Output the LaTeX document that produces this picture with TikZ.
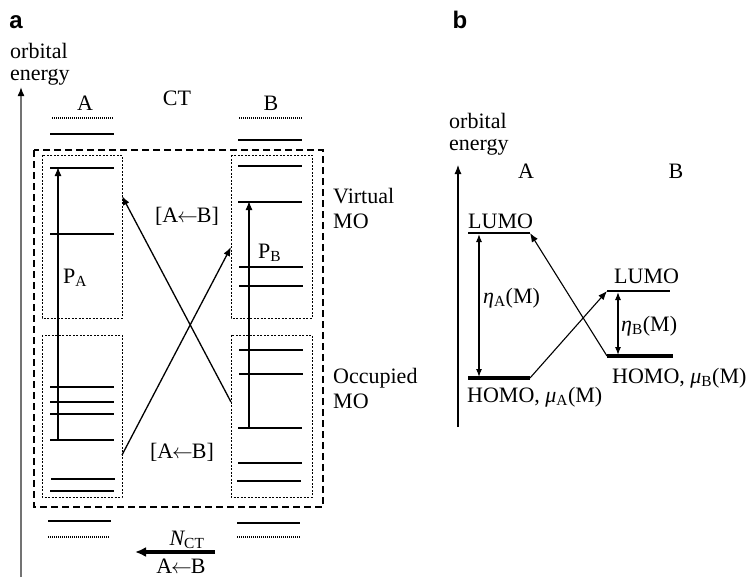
\documentclass[tikz,border=0pt]{standalone}
\usepackage{fontspec}
\setmainfont{Liberation Serif}
\newfontfamily\labfont{Liberation Sans}
\usetikzlibrary{arrows.meta}
\begin{document}
\begin{tikzpicture}[x=1pt,y=-1pt,
  txt/.style={font=\fontsize{22}{26}\selectfont, inner sep=0pt},
  panellab/.style={font=\labfont\bfseries\fontsize{24}{28}\selectfont, inner sep=0pt},
  lvl/.style={line width=2.6pt},
  lvlthin/.style={line width=2pt},
  lvlthick/.style={line width=3.6pt},
  dotlvl/.style={line width=1.1pt, dash pattern=on 1pt off 1pt},
  outerbox/.style={line width=1.2pt, dash pattern=on 7pt off 4pt},
  innerbox/.style={line width=0.8pt, dash pattern=on 2pt off 1.5pt},
  arr/.style={line width=1.3pt, -{Latex[length=9pt,width=7pt]}},
  darr/.style={line width=1.1pt, {Latex[length=8pt,width=6pt]}-{Latex[length=8pt,width=6pt]}}
]
\useasboundingbox (0,0) rectangle (753,579);

% ---------------- panel a ----------------
\node[panellab] (la) at (16,22) {a};
\node[txt, anchor=base west] (oa1) at (10,58) {orbital};
\node[txt, anchor=base west] (oa2) at (10,80) {energy};
\coordinate (axa0) at (21,577);
\coordinate (axa1) at (21,87);
\draw[line width=1.5pt, black!55, -{Latex[length=9pt,width=7pt,color=black]}] (axa0) -- (axa1);

\node[txt, anchor=base] (hA) at (85,110) {A};
\node[txt, anchor=base] (hCT) at (177,105) {CT};
\node[txt, anchor=base] (hB) at (271,110) {B};

% outer and inner boxes
\draw[outerbox] (34,150) rectangle (323,507);
\draw[innerbox] (42,155) rectangle (122,318);
\draw[innerbox] (231,155) rectangle (312,318);
\draw[innerbox] (42,335) rectangle (122,497);
\draw[innerbox] (231,335) rectangle (312,497);

% A levels
\draw[dotlvl] (52,118) -- (113,118);
\draw[lvl] (50,134) -- (114,134);
\draw[lvl] (50,168) -- (114,168);
\draw[lvl] (50,234) -- (114,234);
\draw[lvl] (50,387) -- (114,387);
\draw[lvl] (50,402) -- (114,402);
\draw[lvl] (50,414) -- (114,414);
\draw[lvl] (50,440) -- (114,440);
\draw[lvl] (51,479) -- (115,479);
\draw[lvl] (50,491) -- (114,491);
\draw[lvl] (48,521) -- (111,521);
\draw[dotlvl] (48,537) -- (110,537);

% B levels
\draw[dotlvl] (239,118) -- (302,118);
\draw[lvl] (238,140) -- (302,140);
\draw[lvl] (238,166) -- (302,166);
\draw[lvl] (238,202) -- (302,202);
\draw[lvl] (239,267) -- (303,267);
\draw[lvl] (239,286) -- (303,286);
\draw[lvl] (239,350) -- (303,350);
\draw[lvl] (239,374) -- (303,374);
\draw[lvl] (238,428) -- (302,428);
\draw[lvl] (238,463) -- (302,463);
\draw[lvl] (237,481) -- (301,481);
\draw[lvl] (237,523) -- (300,523);
\draw[dotlvl] (237,537) -- (300,537);

% polarization arrows
\coordinate (pa0) at (58,440);
\coordinate (pa1) at (58,167);
\draw[arr] (pa0) -- (pa1);
\node[txt, anchor=base west] (lPA) at (63,283) {P\textsubscript{A}};
\coordinate (pb0) at (249,428);
\coordinate (pb1) at (249,201);
\draw[arr] (pb0) -- (pb1);
\node[txt, anchor=base west] (lPB) at (258,258) {P\textsubscript{B}};

% CT arrows
\coordinate (c1s) at (231,402);
\coordinate (c1e) at (122,196);
\draw[arr] (c1s) -- (c1e);
\coordinate (c2s) at (122,455);
\coordinate (c2e) at (231,247);
\draw[arr] (c2s) -- (c2e);
\node[txt] (lab1) at (187,216) {[A\kern-1pt$\leftarrow$\kern-1pt B]};
\node[txt] (lab2) at (182,452) {[A\kern-1pt$\leftarrow$\kern-1pt B]};

\node[txt, anchor=base west] (v1) at (333,203) {Virtual};
\node[txt, anchor=base west] (v2) at (333,228) {MO};
\node[txt, anchor=base west] (o1) at (333,383) {Occupied};
\node[txt, anchor=base west] (o2) at (333,408) {MO};

% N_CT
\node[txt, anchor=base] (nct) at (187,545) {{\itshape N}\textsubscript{CT}};
\coordinate (n0) at (215,552);
\coordinate (n1) at (135,552);
\draw[line width=3.2pt, -{Latex[length=11pt,width=10pt]}] (n0) -- (n1);
\node[txt, anchor=base] (nab) at (181,573) {A\kern-1pt$\leftarrow$\kern-1pt B};

% ---------------- panel b ----------------
\node[panellab] (lb) at (460,20) {b};
\node[txt, anchor=base west] (ob1) at (449,128) {orbital};
\node[txt, anchor=base west] (ob2) at (449,150) {energy};
\coordinate (axb0) at (458,427);
\coordinate (axb1) at (458,165);
\draw[line width=1.1pt, -{Latex[length=9pt,width=7pt]}] (axb0) -- (axb1);
\node[txt, anchor=base] (bA) at (526,178) {A};
\node[txt, anchor=base] (bB) at (676,178) {B};

\coordinate (luA0) at (468,233); \coordinate (luA1) at (530,233);
\coordinate (hoA0) at (468,378); \coordinate (hoA1) at (530,378);
\coordinate (luB0) at (607,291); \coordinate (luB1) at (670,291);
\coordinate (hoB0) at (607,356); \coordinate (hoB1) at (673,356);
\draw[lvlthin] (luA0) -- (luA1);
\draw[lvlthick] (hoA0) -- (hoA1);
\draw[lvlthin] (luB0) -- (luB1);
\draw[lvlthick] (hoB0) -- (hoB1);

\node[txt, anchor=base west] (tluA) at (468,228) {LUMO};
\node[txt, anchor=base west] (tluB) at (614,283) {LUMO};
\node[txt, anchor=base west] (thoA) at (467,402) {HOMO, {\itshape μ}\textsubscript{A}(M)};
\node[txt, anchor=base west] (thoB) at (612,383) {HOMO, {\itshape μ}\textsubscript{B}(M)};

\coordinate (etaA0) at (479,234); \coordinate (etaA1) at (479,377);
\draw[darr] (etaA0) -- (etaA1);
\node[txt, anchor=west] (tetaA) at (483,298) {{\itshape η}\textsubscript{A}(M)};
\coordinate (etaB0) at (618,292); \coordinate (etaB1) at (618,355);
\draw[darr] (etaB0) -- (etaB1);
\node[txt, anchor=west] (tetaB) at (621,326) {{\itshape η}\textsubscript{B}(M)};

\draw[line width=1.1pt, -{Latex[length=9pt,width=7pt]}] (hoA1) -- (luB0);
\draw[line width=1.1pt, -{Latex[length=9pt,width=7pt]}] (hoB0) -- (luA1);
\end{tikzpicture}
\end{document}
